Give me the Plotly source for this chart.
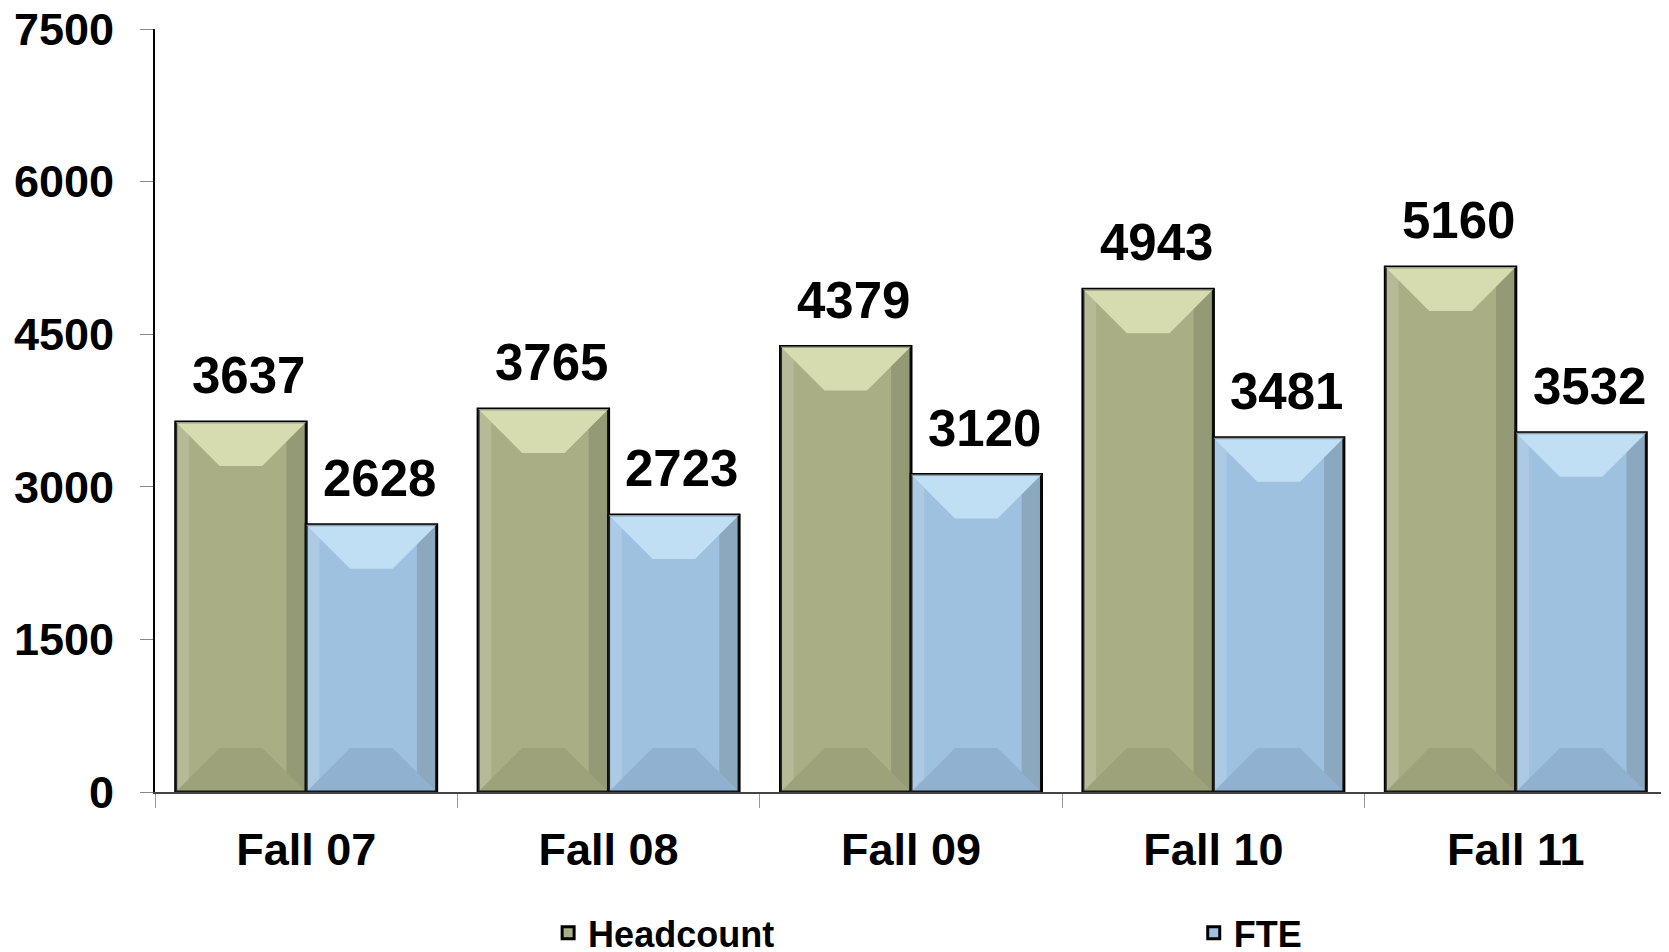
import plotly.graph_objects as go

categories = ["Fall 07", "Fall 08", "Fall 09", "Fall 10", "Fall 11"]
headcount = [3637, 3765, 4379, 4943, 5160]
fte = [2628, 2723, 3120, 3481, 3532]
y_ticks = [0, 1500, 3000, 4500, 6000, 7500]

FONT = "Arial, Liberation Sans, sans-serif"
BARGAP = 0.137
W = (1 - BARGAP) / 2

# plot area size in px, used to turn the bevel size into data units
PLOT_W, PLOT_H = 1512, 763
BEVEL_PX = 44
dx = BEVEL_PX / (PLOT_W / len(categories))
dy = BEVEL_PX * 7500 / PLOT_H

series = [
    ("Headcount", headcount, "#AAAE85", "rgba(240,244,200,0.65)", "rgba(110,114,80,0.2)", -W, "legend"),
    ("FTE", fte, "#9FC1E0", "rgba(210,238,255,0.65)", "rgba(80,110,140,0.18)", 0.0, "legend2"),
]

fig = go.Figure()
for name, vals, col, light, dark, off, leg in series:
    fig.add_trace(go.Bar(
        name=name, x=categories, y=vals, legend=leg,
        marker=dict(color=col, line=dict(color="black", width=3)),
    ))

shapes = []
annotations = []
for name, vals, col, light, dark, off, leg in series:
    for i, v in enumerate(vals):
        x0, x1 = i + off, i + off + W
        # top bevel
        shapes.append(dict(type="path", xref="x", yref="y", layer="above",
                           path=f"M {x0},{v} L {x1},{v} L {x1-dx},{v-dy} L {x0+dx},{v-dy} Z",
                           fillcolor=light, line=dict(width=0)))
        # bottom bevel
        shapes.append(dict(type="path", xref="x", yref="y", layer="above",
                           path=f"M {x0},0 L {x1},0 L {x1-dx},{dy} L {x0+dx},{dy} Z",
                           fillcolor=dark, line=dict(width=0)))
        # right side shade
        shapes.append(dict(type="path", xref="x", yref="y", layer="above",
                           path=f"M {x1},{v} L {x1},0 L {x1-dx*0.45},{dy*0.45} L {x1-dx*0.45},{v-dy*0.45} Z",
                           fillcolor="rgba(60,70,60,0.2)", line=dict(width=0)))
        # left side highlight
        shapes.append(dict(type="path", xref="x", yref="y", layer="above",
                           path=f"M {x0},{v} L {x0},0 L {x0+dx*0.3},{dy*0.3} L {x0+dx*0.3},{v-dy*0.3} Z",
                           fillcolor="rgba(255,255,255,0.15)", line=dict(width=0)))
        annotations.append(dict(x=i + off + W / 2, y=v, xref="x", yref="y",
                                text=str(v), showarrow=False, yanchor="bottom",
                                yshift=16, xshift=8,
                                font=dict(family=FONT, size=51, color="black", weight="bold")))

legend_font = dict(family=FONT, size=36, color="black", weight="bold")
fig.update_layout(
    width=1661, height=944,
    margin=dict(l=147, r=2, t=21, b=160, autoexpand=False),
    paper_bgcolor="white", plot_bgcolor="white",
    barmode="group", bargap=BARGAP, bargroupgap=0,
    font=dict(family=FONT, color="black"),
    shapes=shapes, annotations=annotations,
    showlegend=True,
    legend=dict(orientation="h", x=0.26, y=-0.224, xanchor="left", yanchor="bottom",
                font=legend_font),
    legend2=dict(orientation="h", x=0.687, y=-0.224, xanchor="left", yanchor="bottom",
                 font=legend_font),
)
fig.update_xaxes(
    type="category", showline=True, linecolor="#444", linewidth=1.5,
    ticks="outside", tickson="boundaries", ticklen=14, tickcolor="#999",
    tickfont=dict(family=FONT, size=45, color="black", weight="bold"),
    ticklabelstandoff=17, showgrid=False, automargin=False,
)
fig.update_yaxes(
    range=[0, 7500], tickvals=y_ticks, showline=True, linecolor="black", linewidth=2,
    ticks="outside", ticklen=13, tickcolor="#888",
    tickfont=dict(family=FONT, size=45, color="black", weight="bold"),
    ticklabelstandoff=17, ticklabeloverflow="allow", showgrid=False,
    zeroline=False, automargin=False,
)

fig.write_html("out.html")
